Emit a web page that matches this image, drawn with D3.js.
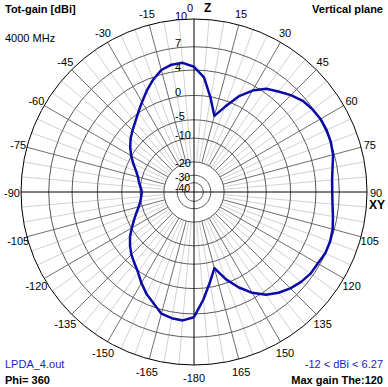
<!DOCTYPE html>
<html>
<head>
<meta charset="utf-8">
<script src="https://cdn.jsdelivr.net/npm/d3@7"></script>
<style>
  body { margin: 0; background: #fff; }
  svg { display: block; }
  text { font-family: 'Liberation Sans', Arial, sans-serif; font-size: 11px; }
</style>
</head>
<body>
<svg></svg>
<script>
// Dimensions
var width = 388;
var height = 387;
var cx = 194;
var cy = 192;
var R = 173;

// Pattern data: theta (deg) and total gain (dBi)
var thetaDeg = [-180, -175, -170, -165, -160, -155, -150, -145, -140, -135, -130, -125,
  -120, -115, -110, -105, -100, -95, -90, -85, -80, -75, -70, -65,
  -60, -55, -50, -45, -40, -35, -30, -25, -20, -15, -10, -5,
  0, 5, 10, 15, 20, 25, 30, 35, 40, 45, 50, 55,
  60, 65, 70, 75, 80, 85, 90, 95, 100, 105, 110, 115,
  120, 125, 130, 135, 140, 145, 150, 155, 160, 165, 170, 175, 180];
var gainDbi = [4.45, 4.95, 4.85, 4.55, 3.5, 2.6, 1.45, 0.2, -0.7, -1.5, -2.5, -3.65,
  -5.1, -6.5, -7.8, -9.0, -9.8, -10.3, -10.6, -10.1, -9.4, -8.75, -7.7, -6.3,
  -4.9, -3.7, -2.65, -1.8, -0.95, 0.1, 1.25, 2.5, 3.65, 4.6, 5.0, 5.05,
  4.45, 3.0, -0.2, -3.5, -1.1, 1.5, 3.3, 4.55, 5.25, 6.0, 6.6, 6.9,
  7.1, 7.13, 7.05, 6.85, 6.45, 6.2, 6.15, 6.25, 6.5, 6.8, 6.95, 6.95,
  6.72, 6.65, 6.35, 5.9, 5.3, 4.5, 3.2, 1.45, -0.7, -3.5, -0.9, 1.9, 4.45];

// Grid levels and tick labels
var ringLevels = [10, 7, 4, 0, -5, -10, -20, -30, -40];
var ringLabels = ['10', '7', '4', '0', '-5', '-10', '-20', '-30', '-40'];
var angleTicks = [-165, -150, -135, -120, -105, -90, -75, -60, -45, -30, -15,
  0, 15, 30, 45, 60, 75, 90, 105, 120, 135, 150, 165, 180];
var angleLabels = ['-165', '-150', '-135', '-120', '-105', '-90', '-75', '-60', '-45', '-30', '-15',
  '0', '15', '30', '45', '60', '75', '90', '105', '120', '135', '150', '165', '-180'];
var minorAngles = [];
for (var a = -180; a < 180; a += 5) { if (a % 15 !== 0) minorAngles.push(a); }

// ARRL style log scale: 0.89 per 2 dB, 10 dBi on the outer ring
var rMin = R * Math.pow(0.89, 25);
var rLog = d3.scaleLog().domain([rMin, R]).range([-40, 10]);
function rad(db) { return rLog.invert(db); }

var ang = d3.scaleLinear().domain([-180, 180]).range([-Math.PI, Math.PI]);

var svg = d3.select('svg')
  .attr('width', width)
  .attr('height', height);

var canvas = svg.append('g')
  .attr('transform', 'translate(' + cx + ',' + cy + ')');

var rInner = rad(-20);

// Minor spokes
canvas.selectAll('.minor')
  .data(minorAngles)
  .enter().append('line')
    .attr('x1', function (d) { return rInner * Math.sin(ang(d)); })
    .attr('y1', function (d) { return -rInner * Math.cos(ang(d)); })
    .attr('x2', function (d) { return R * Math.sin(ang(d)); })
    .attr('y2', function (d) { return -R * Math.cos(ang(d)); })
    .attr('stroke', '#d2d2d2')
    .attr('stroke-width', 1);

// Major spokes every 15 deg
canvas.selectAll('.major')
  .data(angleTicks.filter(function (d) { return d % 90 !== 0; }))
  .enter().append('line')
    .attr('x1', function (d) { return rInner * Math.sin(ang(d)); })
    .attr('y1', function (d) { return -rInner * Math.cos(ang(d)); })
    .attr('x2', function (d) { return R * Math.sin(ang(d)); })
    .attr('y2', function (d) { return -R * Math.cos(ang(d)); })
    .attr('stroke', '#6e6e6e')
    .attr('stroke-width', 1);

// Rings
canvas.selectAll('.ring')
  .data(ringLevels)
  .enter().append('circle')
    .attr('r', function (d) { return rad(d); })
    .attr('fill', 'none')
    .attr('stroke', function (d, i) { return i === 0 ? '#000' : '#5a5a5a'; })
    .attr('stroke-width', 1);

// Axes
canvas.append('line')
  .attr('x1', -R).attr('x2', R).attr('y1', 0).attr('y2', 0)
  .attr('stroke', '#000');
canvas.append('line')
  .attr('x1', 0).attr('x2', 0).attr('y1', -R).attr('y2', R)
  .attr('stroke', '#000');

// Ring labels along the vertical axis (inner ones pushed apart)
var innerShift = { '-20': -29.5, '-30': -15, '-40': -4 };
canvas.selectAll('.rlab')
  .data(ringLevels)
  .enter().append('text')
    .attr('x', -19)
    .attr('y', function (d) {
      return innerShift[d] !== undefined ? innerShift[d] : -rad(d) - 3.5;
    })
    .attr('dominant-baseline', 'central')
    .attr('fill', '#000')
    .style('font-size', function (d) { return d <= -30 ? '10.5px' : '11px'; })
    .text(function (d, i) { return ringLabels[i]; });

// Angle labels
canvas.selectAll('.alab')
  .data(angleTicks)
  .enter().append('text')
    .attr('x', function (d) { return d === 0 ? -4 : (R + 9) * Math.sin(ang(d)); })
    .attr('y', function (d) { return -(R + 12) * Math.cos(ang(d)) + 1; })
    .attr('text-anchor', 'middle')
    .attr('dominant-baseline', 'central')
    .text(function (d, i) { return angleLabels[i]; });

canvas.append('text')
  .attr('x', 10).attr('y', -(R + 11))
  .attr('dominant-baseline', 'central')
  .attr('font-weight', 'bold')
  .style('font-size', '12px')
  .text('Z');

canvas.append('text')
  .attr('x', R + 2).attr('y', 13)
  .attr('dominant-baseline', 'central')
  .attr('font-weight', 'bold')
  .style('font-size', '12px')
  .text('XY');

// Pattern line
var pattern = thetaDeg.map(function (t, i) { return [t, gainDbi[i]]; });
var line = d3.lineRadial()
  .angle(function (d) { return ang(d[0]); })
  .radius(function (d) { return rad(d[1]); })
  .curve(d3.curveLinear);

canvas.append('path')
  .datum(pattern)
  .attr('d', line)
  .attr('fill', 'none')
  .attr('stroke', '#0a0aa8')
  .attr('stroke-width', 2.5)
  .attr('stroke-linejoin', 'round');

// Header and footer texts
svg.append('text').attr('x', 5).attr('y', 13)
  .attr('font-weight', 'bold').text('Tot-gain [dBi]');
svg.append('text').attr('x', 5).attr('y', 42)
  .text('4000 MHz');
svg.append('text').attr('x', 383).attr('y', 13)
  .attr('text-anchor', 'end').attr('font-weight', 'bold').text('Vertical plane');
svg.append('text').attr('x', 5).attr('y', 368)
  .attr('fill', '#1c1cc8').text('LPDA_4.out');
svg.append('text').attr('x', 5).attr('y', 384)
  .attr('font-weight', 'bold').text('Phi= 360');
svg.append('text').attr('x', 383).attr('y', 368)
  .attr('text-anchor', 'end').attr('fill', '#1c1cc8').text('-12 < dBi < 6.27');
svg.append('text').attr('x', 383).attr('y', 384)
  .attr('text-anchor', 'end').attr('font-weight', 'bold').text('Max gain The:120');
</script>
</body>
</html>
